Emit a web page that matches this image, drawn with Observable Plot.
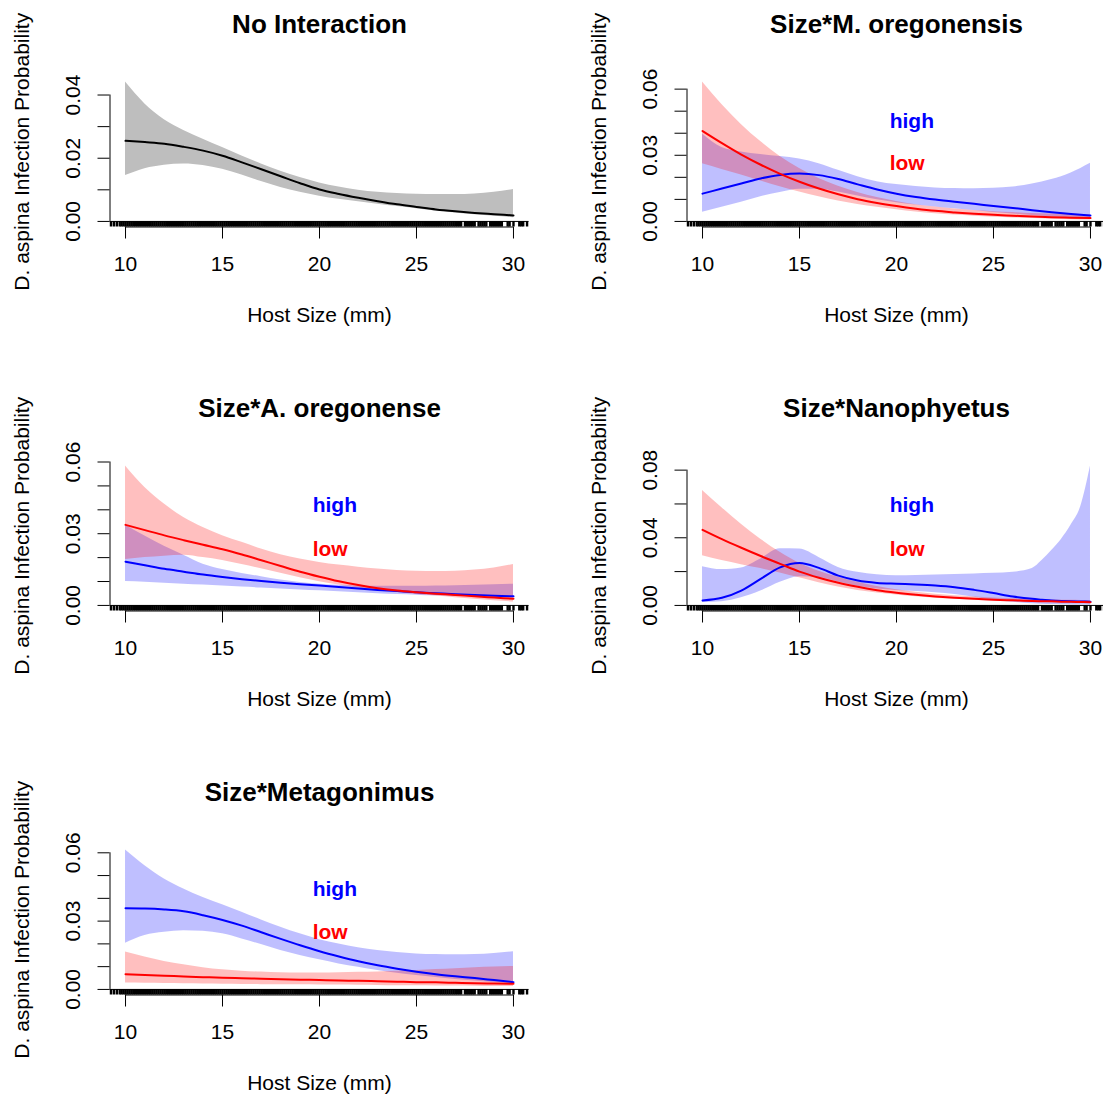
<!DOCTYPE html>
<html>
<head>
<meta charset="utf-8">
<script src="https://cdn.jsdelivr.net/npm/d3@7"></script>
<script src="https://cdn.jsdelivr.net/npm/@observablehq/plot@0.6"></script>
<style>
  html, body { margin: 0; padding: 0; background: #fff; }
  #fig { position: relative; width: 1103px; height: 1099px; overflow: hidden; background: #fff; }
  #fig svg { position: absolute; }
</style>
</head>
<body>
<div id="fig"></div>
<script>
// ---------- data ----------
const sizes = [10,11,12,13,14,15,16,17,18,19,20,21,22,23,24,25,26,27,28,29,30];
const sizesNano = [10,11,12,13,14,15,16,17,18,19,20,21,22,23,24,25,26,27,27.5,28,28.5,29,29.5,30];

// No Interaction
const noIntFit = [.0255,.0251,.0246,.0236,.0224,.0208,.0187,.0165,.0143,.0121,.0101,.0087,.0075,.0064,.0054,.0046,.0038,.0032,.0027,.0023,.0019];
const noIntHi  = [.0441,.0372,.0322,.0288,.0260,.0234,.0207,.0182,.0159,.0139,.0122,.0109,.0099,.0092,.0088,.0086,.0085,.0085,.0087,.0092,.0101];
const noIntLo  = [.0145,.0167,.0178,.0182,.0177,.0165,.0147,.0126,.0107,.0092,.0080,.0070,.0062,.0054,.0047,.0040,.0033,.0027,.0021,.0016,.0012];

// Size*M. oregonensis
const mOregHighFit = [.0126,.0149,.0172,.0195,.0211,.0217,.0210,.0192,.0168,.0145,.0126,.0111,.0099,.0089,.0080,.0070,.0061,.0051,.0042,.0034,.0027];
const mOregHighHi  = [.0397,.0335,.0315,.0303,.0294,.0283,.0262,.0232,.0203,.0180,.0167,.0158,.0152,.0149,.0148,.0150,.0156,.0170,.0190,.0220,.0264];
const mOregHighLo  = [.0042,.0064,.0087,.0112,.0131,.0146,.0146,.0133,.0115,.0098,.0085,.0074,.0065,.0057,.0049,.0041,.0034,.0027,.0021,.0016,.0012];
const mOregLowFit  = [.0410,.0355,.0303,.0257,.0216,.0180,.0149,.0123,.0101,.0084,.0070,.0058,.0048,.0041,.0035,.0030,.0026,.0022,.0019,.0017,.0015];
const mOregLowHi   = [.0632,.0530,.0440,.0362,.0295,.0240,.0195,.0160,.0131,.0108,.0090,.0076,.0065,.0056,.0049,.0044,.0040,.0036,.0034,.0032,.0030];
const mOregLowLo   = [.0262,.0236,.0210,.0183,.0157,.0133,.0112,.0093,.0077,.0064,.0053,.0043,.0035,.0029,.0024,.0019,.0016,.0013,.0010,.0008,.0006];

// Size*A. oregonense
const aOregHighFit = [.0183,.0168,.0153,.0141,.0129,.0119,.0110,.0102,.0095,.0089,.0083,.0077,.0071,.0065,.0060,.0055,.0051,.0047,.0044,.0041,.0038];
const aOregHighHi  = [.0335,.0290,.0248,.0210,.0172,.0150,.0134,.0120,.0106,.0096,.0089,.0084,.0081,.0080,.0080,.0080,.0081,.0082,.0084,.0086,.0089];
const aOregHighLo  = [.0100,.0097,.0093,.0089,.0085,.0081,.0077,.0073,.0069,.0065,.0061,.0057,.0053,.0049,.0046,.0043,.0040,.0038,.0036,.0034,.0032];
const aOregLowFit  = [.0337,.0315,.0293,.0273,.0254,.0235,.0213,.0189,.0165,.0141,.0120,.0101,.0085,.0072,.0062,.0055,.0049,.0044,.0038,.0033,.0028];
const aOregLowHi   = [.0583,.0493,.0424,.0368,.0326,.0292,.0264,.0236,.0212,.0194,.0180,.0169,.0160,.0152,.0146,.0143,.0142,.0143,.0148,.0157,.0171];
const aOregLowLo   = [.0192,.0200,.0206,.0210,.0200,.0188,.0171,.0153,.0135,.0116,.0099,.0085,.0073,.0063,.0054,.0046,.0039,.0032,.0026,.0020,.0014];

// Size*Nanophyetus
const nanoHighFit = [.0029,.0045,.0088,.0157,.0225,.0251,.0222,.0176,.0147,.0133,.0128,.0124,.0118,.0108,.0092,.0073,.0053,.0039,.0034,.0029,.0026,.0024,.0023,.0022];
const nanoHighHi  = [.0229,.0212,.0222,.0275,.0335,.0333,.0284,.0225,.0196,.0182,.0176,.0177,.0180,.0183,.0186,.0190,.0196,.0218,.0265,.0325,.0390,.0475,.0585,.0824];
const nanoHighLo  = [.0018,.0022,.0045,.0085,.0137,.0170,.0165,.0138,.0113,.0097,.0088,.0082,.0075,.0064,.0048,.0032,.0019,.0010,.0007,.0005,.0004,.0003,.0002,.0001];
const nanoLowFit  = [.0447,.0392,.0341,.0292,.0246,.0200,.0164,.0134,.0110,.0090,.0075,.0063,.0053,.0045,.0039,.0034,.0030,.0026,.0025,.0024,.0022,.0021,.0020,.0019];
const nanoLowHi   = [.0680,.0578,.0480,.0392,.0314,.0249,.0202,.0167,.0137,.0112,.0092,.0078,.0066,.0057,.0050,.0044,.0039,.0035,.0034,.0032,.0031,.0030,.0029,.0028];
const nanoLowLo   = [.0294,.0265,.0241,.0218,.0192,.0163,.0134,.0109,.0089,.0074,.0062,.0051,.0043,.0036,.0031,.0026,.0022,.0019,.0017,.0016,.0015,.0014,.0013,.0012];

// Size*Metagonimus
const metaHighFit = [.0356,.0355,.0351,.0343,.0326,.0305,.0280,.0251,.0222,.0194,.0168,.0145,.0124,.0106,.0091,.0078,.0067,.0058,.0050,.0041,.0032];
const metaHighHi  = [.0612,.0543,.0485,.0441,.0404,.0372,.0339,.0305,.0273,.0244,.0218,.0199,.0183,.0171,.0162,.0156,.0153,.0152,.0153,.0158,.0166];
const metaHighLo  = [.0203,.0237,.0251,.0258,.0255,.0244,.0222,.0197,.0171,.0149,.0130,.0112,.0097,.0083,.0071,.0061,.0052,.0044,.0037,.0030,.0024];
const metaLowFit  = [.0067,.0063,.0060,.0057,.0054,.0051,.0049,.0047,.0045,.0043,.0041,.0039,.0038,.0036,.0034,.0032,.0031,.0029,.0027,.0026,.0025];
const metaLowHi   = [.0164,.0142,.0123,.0108,.0095,.0086,.0080,.0076,.0073,.0072,.0072,.0073,.0075,.0077,.0080,.0083,.0087,.0091,.0095,.0098,.0101];
const metaLowLo   = [.0028,.0027,.0026,.0025,.0024,.0023,.0022,.0021,.0020,.0020,.0019,.0019,.0018,.0017,.0016,.0016,.0015,.0015,.0014,.0013,.0013];

// Host sizes (rug)
const rugSizes = [
  9.25,9.4,9.55,9.7,9.8,9.9,
  10,10.1,10.2,10.3,10.4,10.5,10.6,10.7,10.8,10.9,
  11,11.1,11.2,11.3,11.4,11.5,11.6,11.7,11.8,11.9,
  12,12.1,12.2,12.3,12.4,12.5,12.6,12.7,12.8,12.9,
  13,13.1,13.2,13.3,13.4,13.5,13.6,13.7,13.8,13.9,
  14,14.1,14.2,14.3,14.4,14.5,14.6,14.7,14.8,14.9,
  15,15.1,15.2,15.3,15.4,15.5,15.6,15.7,15.8,15.9,
  16,16.1,16.2,16.3,16.4,16.5,16.6,16.7,16.8,16.9,
  17,17.1,17.2,17.3,17.4,17.5,17.6,17.7,17.8,17.9,
  18,18.1,18.2,18.3,18.4,18.5,18.6,18.7,18.8,18.9,
  19,19.1,19.2,19.3,19.4,19.5,19.6,19.7,19.8,19.9,
  20,20.1,20.2,20.3,20.4,20.5,20.6,20.7,20.8,20.9,
  21,21.1,21.2,21.3,21.4,21.5,21.6,21.7,21.8,21.9,
  22,22.1,22.2,22.3,22.4,22.5,22.6,22.7,22.8,22.9,
  23,23.1,23.2,23.3,23.4,23.5,23.6,23.7,23.8,23.9,
  24,24.1,24.2,24.3,24.4,24.5,24.6,24.7,24.8,24.9,
  25,25.1,25.2,25.3,25.4,25.5,25.6,25.7,25.8,25.9,
  26,26.1,26.2,26.3,26.4,26.5,26.6,26.7,26.8,26.9,
  27,27.1,27.2,27.3,27.5,27.6,27.7,27.8,27.9,
  28,28.2,28.3,28.4,28.5,28.6,28.8,28.9,
  29,29.1,29.2,29.3,29.4,29.7,29.8,30,30.3,30.4,30.5,30.7
];

// axes / labels
const xTicks = [10,15,20,25,30];
const yTicksA = [0,0.01,0.02,0.03,0.04];
const yLabelsA = [0,0.02,0.04];
const yTicksB = [0,0.01,0.02,0.03,0.04,0.05,0.06];
const yLabelsB = [0,0.03,0.06];
const yTicksC = [0,0.02,0.04,0.06,0.08];
const yLabelsC = [0,0.04,0.08];
const titles = ["No Interaction","Size*M. oregonensis","Size*A. oregonense","Size*Nanophyetus","Size*Metagonimus"];
const yTitle = "D. aspina Infection Probability";
const xTitle = "Host Size (mm)";
const levelNames = ["high","low"];
const levelX = 19.65;
const highLabelY = [null,0.0456,0.0420,0.0594,0.0442];
const lowLabelY  = [null,0.0262,0.0237,0.0335,0.0250];

// ---------- build ----------
function rows(xs, fit, lo, hi) {
  return xs.map((x, i) => ({x, fit: fit[i], lo: lo[i], hi: hi[i]}));
}

const BLUE = "#0000ff", RED = "#ff0000";
const panels = [
  {title: titles[0], ticks: yTicksA, labels: yLabelsA, col: 0, row: 0,
   series: [{data: rows(sizes, noIntFit, noIntLo, noIntHi), fill: "#bebebe", op: 1, stroke: "#000"}]},
  {title: titles[1], ticks: yTicksB, labels: yLabelsB, col: 1, row: 0,
   series: [{data: rows(sizes, mOregHighFit, mOregHighLo, mOregHighHi), fill: BLUE, op: 0.25, stroke: BLUE},
            {data: rows(sizes, mOregLowFit, mOregLowLo, mOregLowHi), fill: RED, op: 0.25, stroke: RED}]},
  {title: titles[2], ticks: yTicksB, labels: yLabelsB, col: 0, row: 1,
   series: [{data: rows(sizes, aOregHighFit, aOregHighLo, aOregHighHi), fill: BLUE, op: 0.25, stroke: BLUE},
            {data: rows(sizes, aOregLowFit, aOregLowLo, aOregLowHi), fill: RED, op: 0.25, stroke: RED}]},
  {title: titles[3], ticks: yTicksC, labels: yLabelsC, col: 1, row: 1,
   series: [{data: rows(sizesNano, nanoHighFit, nanoHighLo, nanoHighHi), fill: BLUE, op: 0.25, stroke: BLUE},
            {data: rows(sizesNano, nanoLowFit, nanoLowLo, nanoLowHi), fill: RED, op: 0.25, stroke: RED}]},
  {title: titles[4], ticks: yTicksB, labels: yLabelsB, col: 0, row: 2,
   series: [{data: rows(sizes, metaHighFit, metaHighLo, metaHighHi), fill: BLUE, op: 0.25, stroke: BLUE},
            {data: rows(sizes, metaLowFit, metaLowLo, metaLowHi), fill: RED, op: 0.25, stroke: RED}]}
];

const FONT = "'Liberation Sans', Arial, Helvetica, sans-serif";
const fig = document.getElementById("fig");

panels.forEach((p, k) => {
  const ymax = d3.max(p.series.flatMap(s => s.data.map(d => d.hi)));
  const yDom = [-0.04 * ymax, 1.04 * ymax];
  const xDom = [9.2, 30.8];
  const marks = [];
  p.series.forEach(s => marks.push(Plot.areaY(s.data, {x: "x", y1: "lo", y2: "hi", fill: s.fill, fillOpacity: s.op, curve: "monotone-x"})));
  p.series.forEach(s => marks.push(Plot.line(s.data, {x: "x", y: "fit", stroke: s.stroke, strokeWidth: 2, curve: "monotone-x"})));
  marks.push(
    Plot.ruleY([0], {stroke: "#000", strokeWidth: 1}),
    Plot.ruleX(rugSizes, {x: d => d, y1: yDom[0], y2: yDom[0] + 0.036 * (yDom[1] - yDom[0]), stroke: "#000", strokeWidth: 2.4}),
    Plot.ruleY([yDom[0]], {x1: xTicks[0], x2: xTicks[xTicks.length - 1], stroke: "#000"}),
    Plot.axisX(xTicks, {anchor: "bottom", tickSize: 12, tickPadding: 17, fontSize: 21, label: null, tickFormat: d => String(d)}),
    Plot.ruleX([xDom[0]], {y1: 0, y2: d3.max(p.ticks), stroke: "#000"}),
    Plot.axisY(p.ticks, {anchor: "left", tickSize: 12, label: null, tickFormat: () => ""}),
    Plot.text(p.labels, {x: xDom[0], y: d => d, text: d => d.toFixed(2), rotate: -90, dx: -36.5, textAnchor: "middle", lineAnchor: "middle", fontSize: 21, fill: "#000"}),
    Plot.text([yTitle], {frameAnchor: "left", rotate: -90, dx: -87.5, textAnchor: "middle", lineAnchor: "middle", fontSize: 21, fill: "#000"}),
    Plot.text([xTitle], {frameAnchor: "bottom", dy: 88.5, lineAnchor: "middle", fontSize: 21, fill: "#000"}),
    Plot.text([p.title], {frameAnchor: "top", dy: -52, lineAnchor: "middle", fontSize: 26, fontWeight: "bold", fill: "#000"})
  );
  if (highLabelY[k] != null) {
    marks.push(
      Plot.text([levelNames[0]], {x: levelX, y: highLabelY[k], textAnchor: "start", lineAnchor: "middle", fontSize: 21, fontWeight: "bold", fill: BLUE}),
      Plot.text([levelNames[1]], {x: levelX, y: lowLabelY[k], textAnchor: "start", lineAnchor: "middle", fontSize: 21, fontWeight: "bold", fill: RED})
    );
  }
  const svg = Plot.plot({
    width: 551, height: 384,
    marginLeft: 109.5, marginRight: 22.5, marginTop: 76, marginBottom: 157.5,
    x: {domain: xDom},
    y: {domain: yDom},
    style: {fontFamily: FONT, fontSize: "21px", background: "transparent", overflow: "visible", color: "#000"},
    marks
  });
  svg.style.left = (p.col * 577) + "px";
  svg.style.top = (p.row * 384) + "px";
  svg.style.maxWidth = "none";
  fig.appendChild(svg);
});
</script>
</body>
</html>
